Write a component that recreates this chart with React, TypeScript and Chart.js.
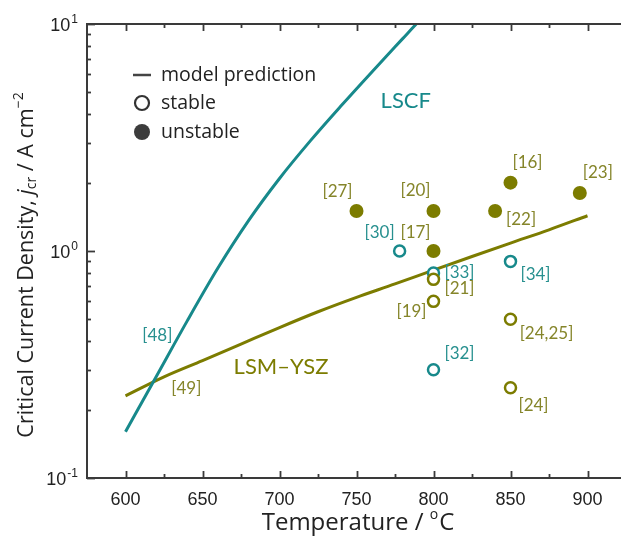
import React, { useEffect, useRef } from 'react';
import { Chart, registerables } from 'chart.js';

Chart.register(...registerables);

// ---- data ----
const TEMP_TICKS = [600, 650, 700, 750, 800, 850, 900];
const TEMP_MINOR_TICKS = [625, 675, 725, 775, 825, 875];
const J_DECADES = [0.1, 1, 10];
const J_EXPONENTS = ['-1', '0', '1'];

// model prediction, LSCF
const LSCF_T = [600, 620, 640, 660, 680, 700, 720, 740, 760, 780, 790, 800];
const LSCF_J = [0.16, 0.28, 0.491, 0.841, 1.364, 2.087, 3.055, 4.36, 6.15, 8.62, 10.2, 11.96];

// model prediction, LSM–YSZ
const LSM_T = [600, 625, 650, 675, 700, 725, 750, 775, 800, 825, 850, 875, 900];
const LSM_J = [0.23, 0.279, 0.329, 0.389, 0.46, 0.54, 0.625, 0.716, 0.824, 0.946, 1.084, 1.24, 1.43];

// literature: unstable cells (LSM–YSZ)
const UNSTABLE_T = [750, 800, 800, 840, 850, 895];
const UNSTABLE_J = [1.5, 1.5, 1.0, 1.5, 2.0, 1.8];
const UNSTABLE_REF = ['[27]', '[20]', '[17]', '[22]', '[16]', '[23]'];

// literature: stable cells (LSM–YSZ)
const STABLE_LSM_T = [800, 800, 850, 850];
const STABLE_LSM_J = [0.75, 0.6, 0.5, 0.25];
const STABLE_LSM_REF = ['[21]', '[19]', '[24,25]', '[24]'];

// literature: stable cells (LSCF)
const STABLE_LSCF_T = [778, 800, 850, 800];
const STABLE_LSCF_J = [1.0, 0.8, 0.9, 0.3];
const STABLE_LSCF_REF = ['[30]', '[33]', '[34]', '[32]'];

// crossing of the two model curves, used to anchor the [48]/[49] notes
const CROSS_T = 620;
const CROSS_J = 0.277;

// ---- styling / layout ----
const TEAL = '#17898b';
const OLIVE = '#7c7c00';
const TEAL_TEXT = '#27908f';
const OLIVE_TEXT = '#85852a';
const AXIS = '#3a3a3a';
const LABEL_FONT = 'Lato, "Open Sans", sans-serif';
const TITLE_FONT = '"Open Sans", "Noto Sans", sans-serif';
const TICK_FONT = '"Liberation Sans", Arial, sans-serif';

const UNSTABLE_OFFSETS = [[-19, -20], [-18, -21], [-18, -18], [26, 8], [17, -20], [18, -21]];
const STABLE_LSM_OFFSETS = [[26, 9], [-22, 10], [36, 14], [23, 18]];
const STABLE_LSCF_OFFSETS = [[-20, -18], [26, 0], [25, 13], [26, -16]];

const CANVAS_W = 660;
const CANVAS_H = 538;

const toPoints = (xs: number[], ys: number[]) => xs.map((x, i) => ({ x, y: ys[i] }));

const decorations = {
  id: 'decorations',
  afterDatasetsDraw(chart: any) {
    const { ctx, chartArea: a } = chart;
    const xs = chart.scales.x;
    const ys = chart.scales.y;
    ctx.save();

    // frame
    ctx.strokeStyle = AXIS;
    ctx.lineWidth = 2;
    ctx.beginPath();
    ctx.moveTo(a.left, a.top);
    ctx.lineTo(a.right, a.top);
    ctx.lineTo(a.right, a.bottom);
    ctx.lineTo(a.left, a.bottom);
    ctx.closePath();
    ctx.stroke();

    // inward ticks on x (bottom and top)
    ctx.lineWidth = 1.8;
    const xTick = (v: number, len: number) => {
      const px = Math.round(xs.getPixelForValue(v)) + 0.5;
      ctx.beginPath();
      ctx.moveTo(px, a.bottom);
      ctx.lineTo(px, a.bottom - len);
      ctx.moveTo(px, a.top);
      ctx.lineTo(px, a.top + len);
      ctx.stroke();
    };
    TEMP_TICKS.forEach((v) => xTick(v, 7));
    TEMP_MINOR_TICKS.forEach((v) => xTick(v, 4));

    // inward ticks on log y
    const yTick = (v: number, len: number) => {
      const py = Math.round(ys.getPixelForValue(v)) + 0.5;
      ctx.beginPath();
      ctx.moveTo(a.left, py);
      ctx.lineTo(a.left + len, py);
      ctx.stroke();
    };
    J_DECADES.forEach((d, i) => {
      yTick(d, 8);
      if (i < J_DECADES.length - 1) {
        for (let k = 2; k <= 9; k++) yTick(d * k, 4);
      }
    });

    // y tick labels: 10 with exponent
    ctx.fillStyle = '#222';
    ctx.textBaseline = 'alphabetic';
    J_DECADES.forEach((d, i) => {
      const py = ys.getPixelForValue(d);
      ctx.font = `12px ${TICK_FONT}`;
      const ew = ctx.measureText(J_EXPONENTS[i]).width;
      const right = a.left - 9;
      ctx.textAlign = 'right';
      ctx.fillText(J_EXPONENTS[i], right, py - 1);
      ctx.font = `18px ${TICK_FONT}`;
      ctx.fillText('10', right - ew - 1, py + 7);
    });

    // x title: Temperature / oC
    {
      const cx = 358;
      const cy = 523;
      const big = `24px ${TITLE_FONT}`;
      const small = `14px ${TITLE_FONT}`;
      ctx.fillStyle = '#222';
      ctx.font = big;
      const t1 = 'Temperature / ';
      const w1 = ctx.measureText(t1).width;
      const wc = ctx.measureText('C').width;
      ctx.font = small;
      const wo = ctx.measureText('o').width;
      let x0 = cx - (w1 + wo + 1 + wc) / 2;
      ctx.textAlign = 'left';
      ctx.textBaseline = 'middle';
      ctx.font = big;
      ctx.fillText(t1, x0, cy);
      x0 += w1;
      ctx.font = small;
      ctx.fillText('o', x0, cy - 8);
      x0 += wo + 1;
      ctx.font = big;
      ctx.fillText('C', x0, cy);
    }

    // y title: Critical Current Density, j_cr / A cm^-2
    {
      const parts = [
        { t: 'Critical Current Density, ', f: `21.5px ${TITLE_FONT}`, dy: 0 },
        { t: 'j', f: `italic 21.5px ${TITLE_FONT}`, dy: 0 },
        { t: 'cr', f: `14px ${TITLE_FONT}`, dy: 5 },
        { t: ' / A cm', f: `21.5px ${TITLE_FONT}`, dy: 0 },
        { t: '\u22122', f: `14px ${TITLE_FONT}`, dy: -8 },
      ];
      let total = 0;
      const widths = parts.map((p) => {
        ctx.font = p.f;
        const w = ctx.measureText(p.t).width;
        total += w;
        return w;
      });
      ctx.save();
      ctx.translate(27, 265);
      ctx.rotate(-Math.PI / 2);
      ctx.fillStyle = '#222';
      ctx.textAlign = 'left';
      ctx.textBaseline = 'middle';
      let x0 = -total / 2;
      parts.forEach((p, i) => {
        ctx.font = p.f;
        ctx.fillText(p.t, x0, p.dy);
        x0 += widths[i];
      });
      ctx.restore();
    }

    // reference labels next to literature points
    ctx.font = `17px ${LABEL_FONT}`;
    ctx.textAlign = 'center';
    ctx.textBaseline = 'middle';
    const labelSet = (T: number[], J: number[], refs: string[], offs: number[][], color: string) => {
      ctx.fillStyle = color;
      refs.forEach((r, i) => {
        const px = xs.getPixelForValue(T[i]) + offs[i][0];
        const py = ys.getPixelForValue(J[i]) + offs[i][1];
        ctx.fillText(r, px, py);
      });
    };
    labelSet(UNSTABLE_T, UNSTABLE_J, UNSTABLE_REF, UNSTABLE_OFFSETS, OLIVE_TEXT);
    labelSet(STABLE_LSM_T, STABLE_LSM_J, STABLE_LSM_REF, STABLE_LSM_OFFSETS, OLIVE_TEXT);
    labelSet(STABLE_LSCF_T, STABLE_LSCF_J, STABLE_LSCF_REF, STABLE_LSCF_OFFSETS, TEAL_TEXT);

    // model references at the crossing
    const cxp = xs.getPixelForValue(CROSS_T);
    const cyp = ys.getPixelForValue(CROSS_J);
    ctx.fillStyle = TEAL_TEXT;
    ctx.fillText('[48]', cxp + 1, cyp - 42);
    ctx.fillStyle = OLIVE_TEXT;
    ctx.fillText('[49]', cxp + 30, cyp + 11);

    // curve names
    ctx.font = `22px ${LABEL_FONT}`;
    ctx.fillStyle = TEAL;
    ctx.fillText('LSCF', xs.getPixelForValue(782), ys.getPixelForValue(4.6));
    ctx.fillStyle = OLIVE;
    ctx.fillText('LSM\u2013YSZ', xs.getPixelForValue(701), ys.getPixelForValue(0.308));

    // legend
    const lx = 142;
    const rows = [75, 103, 132];
    ctx.strokeStyle = '#444';
    ctx.lineWidth = 2.5;
    ctx.beginPath();
    ctx.moveTo(lx - 9, rows[0]);
    ctx.lineTo(lx + 9, rows[0]);
    ctx.stroke();
    ctx.fillStyle = '#fff';
    ctx.lineWidth = 2.2;
    ctx.strokeStyle = '#333';
    ctx.beginPath();
    ctx.arc(lx, rows[1], 7, 0, Math.PI * 2);
    ctx.fill();
    ctx.stroke();
    ctx.fillStyle = '#3c3c3c';
    ctx.beginPath();
    ctx.arc(lx, rows[2], 8, 0, Math.PI * 2);
    ctx.fill();
    ctx.fillStyle = '#222';
    ctx.font = `19.5px ${TITLE_FONT}`;
    ctx.textAlign = 'left';
    ctx.fillText('model prediction', 161, rows[0]);
    ctx.fillText('stable', 161, rows[1]);
    ctx.fillText('unstable', 161, rows[2]);

    ctx.restore();
  },
};

export default function App() {
  const ref = useRef<HTMLCanvasElement | null>(null);

  useEffect(() => {
    if (!ref.current) return;
    const chart = new Chart(ref.current, {
      type: 'scatter',
      data: {
        datasets: [
          {
            label: 'unstable',
            data: toPoints(UNSTABLE_T, UNSTABLE_J),
            pointRadius: 7,
            pointBackgroundColor: OLIVE,
            pointBorderColor: OLIVE,
            pointBorderWidth: 0,
            order: 0,
          },
          {
            label: 'stable LSM–YSZ',
            data: toPoints(STABLE_LSM_T, STABLE_LSM_J),
            pointRadius: 5.5,
            pointBackgroundColor: '#ffffff',
            pointBorderColor: OLIVE,
            pointBorderWidth: 2.5,
            order: 1,
          },
          {
            label: 'stable LSCF',
            data: toPoints(STABLE_LSCF_T, STABLE_LSCF_J),
            pointRadius: 5.5,
            pointBackgroundColor: '#ffffff',
            pointBorderColor: TEAL,
            pointBorderWidth: 2.5,
            order: 2,
          },
          {
            label: 'LSCF model',
            data: toPoints(LSCF_T, LSCF_J),
            showLine: true,
            borderColor: TEAL,
            borderWidth: 3,
            pointRadius: 0,
            cubicInterpolationMode: 'monotone',
            order: 3,
          },
          {
            label: 'LSM–YSZ model',
            data: toPoints(LSM_T, LSM_J),
            showLine: true,
            borderColor: OLIVE,
            borderWidth: 3,
            pointRadius: 0,
            cubicInterpolationMode: 'monotone',
            order: 4,
          },
        ],
      },
      options: {
        animation: false,
        responsive: false,
        devicePixelRatio: 1,
        layout: { padding: { top: 24, right: CANVAS_W - 626, left: 0, bottom: 0 } },
        plugins: { legend: { display: false }, tooltip: { enabled: false } },
        scales: {
          x: {
            type: 'linear',
            min: 575,
            max: 925,
            grid: { display: false },
            border: { display: false },
            ticks: {
              color: '#222',
              font: { family: TICK_FONT, size: 18 },
              padding: 3,
            },
            afterBuildTicks: (s: any) => {
              s.ticks = TEMP_TICKS.map((v) => ({ value: v }));
            },
            afterFit: (s: any) => {
              s.height = CANVAS_H - 478;
            },
          },
          y: {
            type: 'logarithmic',
            min: 0.1,
            max: 10,
            grid: { display: false },
            border: { display: false },
            ticks: { display: false },
            afterFit: (s: any) => {
              s.width = 87;
            },
          },
        },
      },
      plugins: [decorations],
    });
    return () => chart.destroy();
  }, []);

  return (
    <div
      style={{
        position: 'fixed',
        left: 0,
        top: 0,
        width: 621,
        height: 538,
        overflow: 'hidden',
        background: '#fff',
      }}
    >
      <canvas ref={ref} width={CANVAS_W} height={CANVAS_H} style={{ display: 'block' }} />
    </div>
  );
}
